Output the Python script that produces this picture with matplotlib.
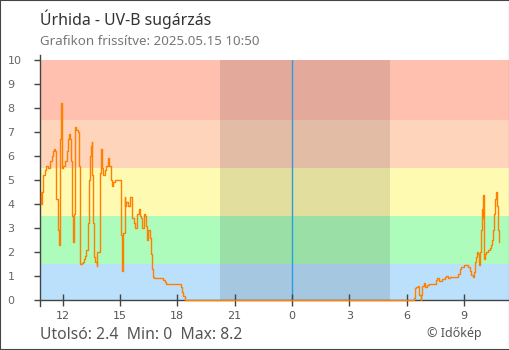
import matplotlib
matplotlib.use("Agg")
import matplotlib.pyplot as plt
import matplotlib.dates as mdates
from matplotlib.patches import Rectangle
import pandas as pd

# UV-B mérések, május 14. (délután) és május 15. (reggel)
nap1_ido = ["10:50", "10:52", "10:55", "10:58", "11:03", "11:07", "11:14", "11:19", "11:25", "11:30",
            "11:33", "11:37", "11:40", "11:44", "11:48", "11:50", "11:52", "11:54", "11:56", "12:01",
            "12:06", "12:12", "12:15", "12:18", "12:22", "12:25", "12:28", "12:30", "12:33", "12:35",
            "12:37", "12:39", "12:43", "12:47", "12:50", "12:53", "12:55", "13:00", "13:03", "13:06",
            "13:10", "13:14", "13:18", "13:21", "13:25", "13:28", "13:31", "13:33", "13:35", "13:38",
            "13:42", "13:46", "13:49", "13:53", "13:56", "13:58", "14:00", "14:04", "14:07", "14:12",
            "14:17", "14:23", "14:26", "14:30", "14:34", "14:38", "14:43", "15:01", "15:03", "15:06",
            "15:10", "15:14", "15:17", "15:20", "15:25", "15:31", "15:36", "15:39", "15:43", "15:48",
            "15:54", "15:58", "16:02", "16:07", "16:10", "16:15", "16:18", "16:21", "16:25", "16:29",
            "16:33", "16:37", "16:40", "16:44", "16:48", "17:10", "17:15", "17:20", "17:24", "18:10",
            "18:15", "18:19", "18:23"]
nap1_uv = [4.5, 4.0, 4.5, 5.2, 5.4, 5.6, 5.5, 5.8, 6.0, 6.2,
           6.3, 6.2, 4.2, 2.9, 2.3, 3.8, 6.7, 8.2, 5.5, 5.6,
           5.8, 6.2, 6.7, 6.9, 6.7, 5.8, 4.4, 3.5, 2.4, 3.6,
           5.4, 7.2, 7.1, 7.0, 5.6, 2.9, 1.5, 1.55, 1.6, 1.7,
           1.85, 2.1, 3.2, 5.0, 6.0, 6.4, 6.6, 5.2, 3.2, 1.8,
           1.6, 1.4, 2.0, 2.0, 3.1, 5.3, 6.3, 5.5, 5.2, 5.4,
           5.6, 5.9, 5.6, 5.0, 4.75, 4.9, 5.0, 5.0, 2.7, 1.2,
           2.8, 4.3, 3.9, 4.1, 3.9, 4.3, 3.8, 3.4, 3.2, 3.0,
           3.6, 3.8, 3.5, 3.4, 3.0, 3.6, 3.5, 3.1, 2.5, 2.9,
           2.6, 1.9, 1.3, 0.95, 0.9, 0.9, 0.85, 0.75, 0.65, 0.55,
           0.35, 0.15, 0.0]

nap2_ido = ["06:20", "06:23", "06:26", "06:31", "06:36", "06:40", "06:44", "06:47", "06:50", "06:54",
            "06:58", "07:03", "07:11", "07:34", "07:37", "07:42", "07:50", "08:00", "08:05", "08:10",
            "08:16", "08:21", "08:42", "08:47", "08:52", "09:00", "09:06", "09:13", "09:18", "09:24",
            "09:29", "09:32", "09:36", "09:39", "09:42", "09:45", "09:48", "09:50", "09:54", "09:57",
            "09:59", "10:01", "10:03", "10:05", "10:08", "10:11", "10:17", "10:22", "10:25", "10:28",
            "10:32", "10:35", "10:38", "10:40", "10:43", "10:45", "10:48", "10:50"]
nap2_uv = [0.0, 0.1, 0.5, 0.56, 0.6, 0.2, 0.0, 0.2, 0.6, 0.7,
           0.56, 0.63, 0.67, 0.84, 0.9, 0.8, 0.86, 0.96, 1.0, 0.9,
           0.94, 0.97, 1.1, 1.28, 1.39, 1.47, 1.46, 1.36, 1.22, 1.04,
           0.97, 1.18, 1.6, 1.8, 2.0, 1.9, 1.46, 2.0, 2.9, 3.8,
           3.4, 4.36, 2.9, 1.7, 1.9, 2.0, 2.08, 2.15, 2.3, 2.5,
           2.9, 3.6, 4.2, 4.5, 4.45, 3.9, 2.9, 2.4]

# UV-kategóriák sávjai
sav_hatarok = [0, 1.5, 3.5, 5.5, 7.5, 10]
sav_szinek = ["#bae0fb", "#adfcbb", "#fefab2", "#fed4ba", "#ffc0b0"]

napnyugta = "2025-05-14 20:15"
napkelte = "2025-05-15 05:08"
ejfel = "2025-05-15 00:00"

ido = pd.to_datetime(["2025-05-14 " + t for t in nap1_ido] + ["2025-05-15 " + t for t in nap2_ido])
uv = nap1_uv + nap2_uv

fig = plt.figure(figsize=(5.1, 3.5), dpi=100)
ax = fig.add_axes([40.5 / 510, 50 / 350, 468.5 / 510, 240 / 350])

for lo, hi, c in zip(sav_hatarok[:-1], sav_hatarok[1:], sav_szinek):
    ax.axhspan(lo, hi, color=c, lw=0, zorder=0)
ax.axvspan(pd.Timestamp(napnyugta), pd.Timestamp(napkelte), color="black", alpha=0.11, lw=0, zorder=0.5)
ax.axvline(pd.Timestamp(ejfel), color="#2f9be0", lw=1, zorder=1)

ax.plot(ido, uv, color="#ff8000", lw=1.0, drawstyle="steps-post", zorder=3, clip_on=False)

ax.set_xlim(pd.Timestamp("2025-05-14 10:50"), pd.Timestamp("2025-05-15 11:22"))
ax.set_ylim(0, 10)
ax.set_yticks(range(11))
ax.xaxis.set_major_locator(mdates.HourLocator(byhour=range(0, 24, 3)))
ax.xaxis.set_major_formatter(plt.FuncFormatter(lambda x, _: str(mdates.num2date(x).hour)))

for s in ["top", "right"]:
    ax.spines[s].set_visible(False)
for s in ["left", "bottom"]:
    ax.spines[s].set_color("#444444")
    ax.spines[s].set_linewidth(1)
ax.spines["left"].set_bounds(-0.25, 10.2)

ax.tick_params(axis="y", length=4.3, width=1, color="#444444", labelsize=8, labelcolor="#666666", pad=19.4)
ax.tick_params(axis="x", direction="inout", length=8.6, width=1, color="#444444",
               labelsize=8, labelcolor="#555555", pad=3.5)
for lbl in ax.get_yticklabels():
    lbl.set_ha("left")
    lbl.set_family("DejaVu Sans")

fig.text(40 / 510, 1 - 25 / 350, "Úrhida - UV-B sugárzás", fontsize=11.4, family="Noto Sans",
         color="#333333", va="baseline")
fig.text(40 / 510, 1 - 45 / 350, "Grafikon frissítve: 2025.05.15 10:50", fontsize=9.6,
         family="Noto Sans", color="#777777", va="baseline")

fmt = lambda v: f"{v:g}"
fig.text(40 / 510, 1 - 339 / 350,
         f"Utolsó: {fmt(uv[-1])}  Min: {fmt(min(uv))}  Max: {fmt(max(uv))}",
         fontsize=11.3, family="Noto Sans", color="#555555", va="baseline")
fig.text(482 / 510, 1 - 337 / 350, "© Időkép", fontsize=9, family="Noto Sans",
         color="#555555", va="baseline", ha="right")

fig.patches.append(Rectangle((0, 0), 1, 1, transform=fig.transFigure, fill=False,
                             ec="#444444", lw=1.5, zorder=10))

fig.savefig("out.png", dpi=100)
